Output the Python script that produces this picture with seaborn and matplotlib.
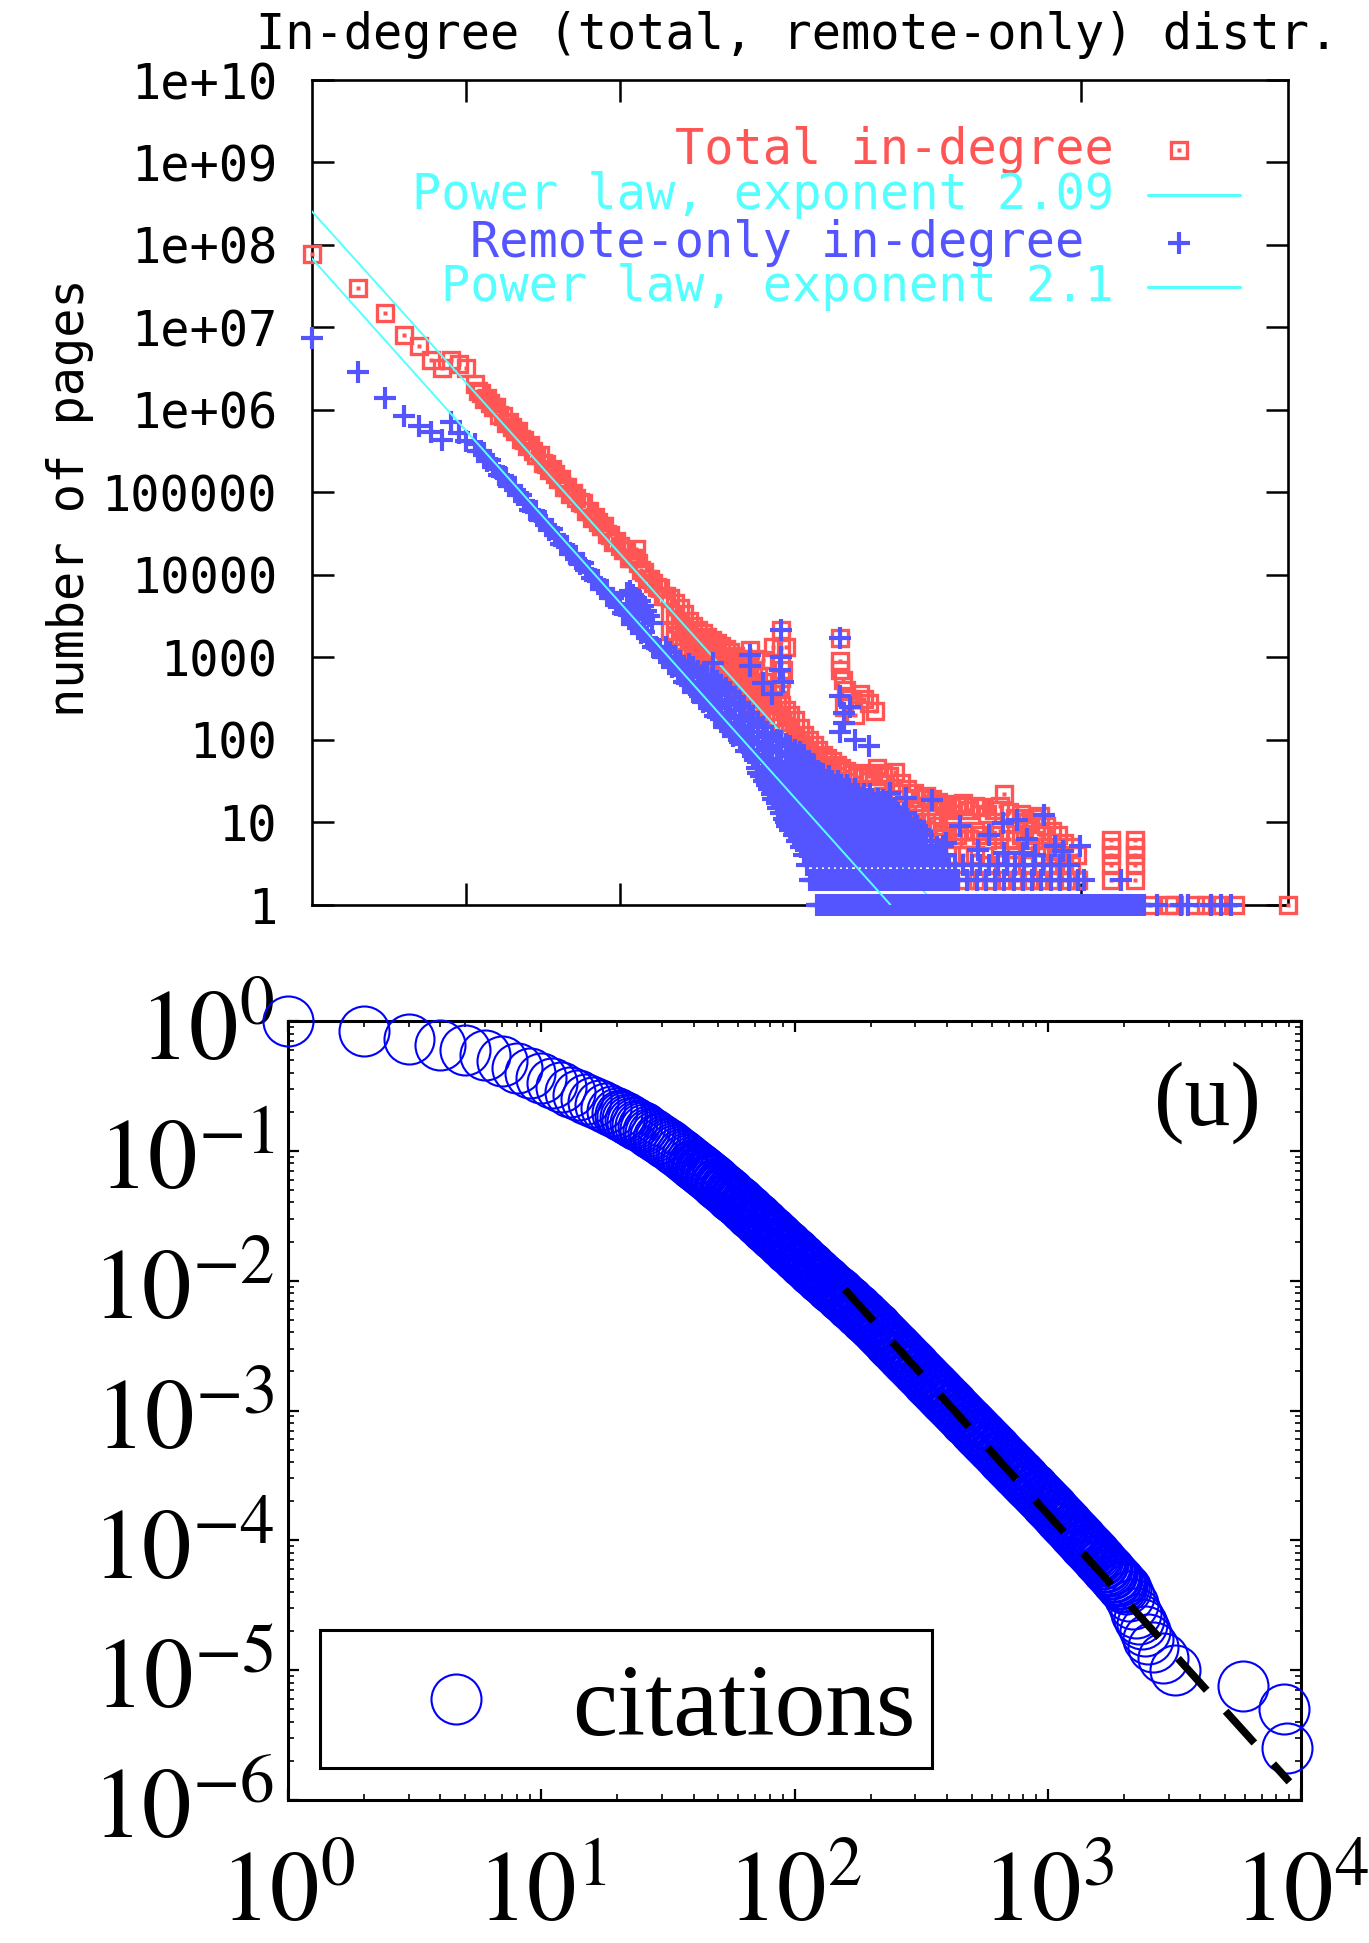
import numpy as np
import pandas as pd
import matplotlib
matplotlib.use("Agg")
import matplotlib.pyplot as plt
from matplotlib.patches import Rectangle
from matplotlib.ticker import LogLocator, NullFormatter, NullLocator
import seaborn as sns

# ====================== TOP PANEL DATA (in-degree distribution) ======================
# total in-degree: first points (degree k, number of pages)
total_head_k = [1, 2, 3, 4, 5, 6, 7, 8, 9, 10]
total_head_n = [7.7e7, 3.0e7, 1.5e7, 8.2e6, 5.9e6, 4.0e6, 3.2e6, 4.0e6, 3.6e6, 3.2e6]
# total in-degree: dense band (log10 k, log10 N)
total_band_logk = [1.06, 1.08, 1.10, 1.12, 1.14, 1.16, 1.18, 1.20, 1.22, 1.24,
                   1.26, 1.28, 1.30, 1.32, 1.34, 1.36, 1.38, 1.40, 1.42, 1.44,
                   1.46, 1.48, 1.50, 1.52, 1.54, 1.56, 1.58, 1.60, 1.62, 1.64,
                   1.66, 1.68, 1.70, 1.72, 1.74, 1.76, 1.78, 1.80, 1.82, 1.84,
                   1.86, 1.88, 1.90, 1.92, 1.94, 1.96, 1.98, 2.00, 2.02, 2.04,
                   2.06, 2.08, 2.10, 2.11,
                   2.12, 2.14, 2.16, 2.18, 2.20, 2.22, 2.24, 2.26, 2.28, 2.30]
total_band_logn = [6.32, 6.23, 6.21, 6.13, 6.14, 6.08, 6.03, 6.03, 5.94, 5.93,
                   5.84, 5.85, 5.79, 5.74, 5.74, 5.65, 5.64, 5.56, 5.57, 5.50,
                   5.45, 5.45, 5.36, 5.35, 5.27, 5.28, 5.22, 5.16, 5.16, 5.07,
                   5.06, 4.98, 4.99, 4.93, 4.88, 4.87, 4.78, 4.77, 4.69, 4.70,
                   4.64, 4.59, 4.59, 4.50, 4.48, 4.40, 4.41, 4.35, 4.30, 4.30,
                   4.21, 4.20, 4.20, 4.31,
                   4.15, 4.06, 4.04, 3.95, 3.95, 3.90, 3.85, 3.84, 3.75, 3.74]
total_upper_logk = [2.33, 2.36, 2.39, 2.42, 2.45, 2.48, 2.51, 2.54, 2.57, 2.60,
                    2.63, 2.66, 2.69, 2.72, 2.75, 2.78, 2.81, 2.84, 2.87, 2.90,
                    2.93, 2.96, 2.99, 3.02, 3.05, 3.08, 3.11, 3.14, 3.17, 3.20,
                    3.23, 3.26, 3.29, 3.32, 3.35, 3.38, 3.41, 3.44]
total_upper_logn = [3.72, 3.66, 3.60, 3.52, 3.44, 3.38, 3.33, 3.29, 3.25, 3.21,
                    3.17, 3.14, 3.10, 3.06, 3.02, 2.98, 2.94, 2.92, 2.85, 2.78,
                    2.70, 2.62, 2.55, 2.48, 2.42, 2.36, 2.30, 2.24, 2.14, 2.06,
                    2.00, 1.94, 1.88, 1.82, 1.78, 1.74, 1.70, 1.66]
total_mid_logn = [3.52, 3.46, 3.40, 3.32, 3.24, 3.18, 3.13, 3.09, 3.05, 3.01,
                  2.97, 2.94, 2.90, 2.86, 2.82, 2.78, 2.74, 2.72, 2.65, 2.58,
                  2.50, 2.42, 2.35, 2.28, 2.22, 2.16, 2.10, 2.04, 1.94, 1.86,
                  1.80, 1.74, 1.68, 1.62, 1.58, 1.54, 1.50, 1.46]
total_low_logk = [2.33, 2.36, 2.39, 2.42, 2.45, 2.48, 2.51, 2.54, 2.57, 2.60,
                  2.63, 2.66, 2.69, 2.72, 2.75, 2.78, 2.81, 2.84, 2.87, 2.90]
total_low_logn = [3.32, 3.26, 3.20, 3.12, 3.04, 2.98, 2.93, 2.89, 2.85, 2.81,
                  2.77, 2.74, 2.70, 2.66, 2.62, 2.58, 2.54, 2.52, 2.45, 2.38]
total_spikes = [(2.85, 3.09), (2.88, 2.98), (2.93, 2.97), (2.955, 2.57), (3.00, 3.13),
                (3.04, 2.65), (3.05, 3.33), (3.05, 3.11), (3.05, 2.93), (3.06, 2.85),
                (3.05, 2.75), (3.08, 3.13), (3.43, 3.23), (3.43, 2.95), (3.43, 2.85),
                (3.45, 2.72), (3.47, 2.60), (3.50, 2.50), (3.56, 2.55), (3.59, 2.50),
                (3.62, 2.445), (3.66, 2.35), (3.46, 2.40), (3.53, 2.30)]
total_tail = [(3.47, 1.62), (3.47, 1.35), (3.47, 1.05), (3.51, 1.58), (3.51, 1.30), (3.51, 0.95),
              (3.55, 1.55), (3.55, 1.25), (3.59, 1.60), (3.59, 1.30), (3.59, 1.00),
              (3.63, 1.56), (3.63, 1.20), (3.67, 1.66), (3.67, 1.40), (3.67, 1.10),
              (3.71, 1.60), (3.71, 1.32), (3.75, 1.56), (3.75, 1.25), (3.75, 0.95),
              (3.79, 1.61), (3.79, 1.35), (3.83, 1.48), (3.83, 1.20), (3.83, 0.90),
              (3.87, 1.40), (3.87, 1.10), (3.91, 1.36), (3.91, 1.15), (3.91, 0.85),
              (3.95, 1.30), (3.95, 1.05), (3.99, 1.32), (3.99, 1.00), (3.99, 0.78),
              (4.03, 1.28), (4.03, 1.00), (4.07, 1.25), (4.07, 0.95), (4.07, 0.70),
              (4.11, 1.22), (4.11, 0.90), (4.15, 1.18), (4.15, 0.95), (4.15, 0.60),
              (4.19, 1.20), (4.19, 0.85), (4.23, 1.24), (4.23, 0.90), (4.23, 0.60),
              (4.27, 1.15), (4.27, 0.80), (4.31, 1.20), (4.31, 0.90), (4.31, 0.60),
              (4.35, 1.18), (4.35, 0.85), (4.39, 1.10), (4.39, 0.78), (4.39, 0.48),
              (4.43, 1.15), (4.43, 0.85), (4.47, 1.20), (4.47, 0.90), (4.47, 0.60),
              (4.50, 1.34), (4.53, 1.12), (4.53, 0.80), (4.57, 1.05), (4.57, 0.78),
              (4.57, 0.48), (4.61, 1.10), (4.61, 0.85), (4.65, 1.00), (4.65, 0.70),
              (4.65, 0.48), (4.69, 1.05), (4.69, 0.78), (4.73, 1.08), (4.73, 0.85),
              (4.73, 0.60), (4.77, 0.95), (4.77, 0.70), (4.81, 0.90), (4.81, 0.65),
              (4.81, 0.48), (4.85, 0.85), (4.85, 0.60), (4.89, 0.75), (4.89, 0.48),
              (4.93, 0.70), (4.93, 0.48), (4.97, 0.60), (4.97, 0.30),
              (4.25, 0.301), (4.33, 0.301), (4.41, 0.301), (4.50, 0.301), (4.58, 0.301),
              (4.66, 0.301), (4.74, 0.301), (4.82, 0.301), (4.90, 0.301), (4.98, 0.301),
              (5.19, 0.30), (5.19, 0.48), (5.19, 0.60), (5.19, 0.70), (5.19, 0.78),
              (5.35, 0.30), (5.35, 0.48), (5.35, 0.60), (5.35, 0.70), (5.35, 0.78),
              (5.445, 0.0), (5.57, 0.0), (5.60, 0.0), (5.74, 0.0), (5.81, 0.0),
              (5.88, 0.0), (6.00, 0.0), (6.343, 0.0)]

# remote-only in-degree
remote_head_k = [1, 2, 3, 4, 5, 6, 7, 8, 9, 10]
remote_head_n = [7.5e6, 2.9e6, 1.4e6, 8.5e5, 6.3e5, 5.4e5, 4.3e5, 7.1e5, 5.2e5, 4.2e5]
remote_band_logk = [1.06, 1.08, 1.10, 1.12, 1.14, 1.16, 1.18, 1.20, 1.22, 1.24,
                    1.26, 1.28, 1.30, 1.32, 1.34, 1.36, 1.38, 1.40, 1.42, 1.44,
                    1.46, 1.48, 1.50, 1.52, 1.54, 1.56, 1.58, 1.60, 1.62, 1.64,
                    1.66, 1.68, 1.70, 1.72, 1.74, 1.76, 1.78, 1.80, 1.82, 1.84,
                    1.86, 1.88, 1.90, 1.92, 1.94, 1.96, 1.98, 2.00, 2.02, 2.04,
                    2.06, 2.08, 2.10, 2.12, 2.14, 2.16, 2.18, 2.20, 2.22, 2.24,
                    2.26, 2.28, 2.30, 2.32, 2.34, 2.36, 2.38, 2.40, 2.42, 2.44,
                    2.46, 2.48, 2.50, 2.52, 2.54, 2.56, 2.58, 2.60, 2.62, 2.64,
                    2.66, 2.68, 2.70, 2.72, 2.74, 2.76, 2.78, 2.80, 2.82, 2.84]
remote_band_logn = [5.59, 5.50, 5.50, 5.45, 5.38, 5.39, 5.31, 5.30, 5.21, 5.20,
                    5.17, 5.08, 5.08, 5.03, 4.97, 4.97, 4.89, 4.88, 4.79, 4.78,
                    4.76, 4.66, 4.66, 4.61, 4.55, 4.56, 4.48, 4.46, 4.37, 4.36,
                    4.34, 4.25, 4.25, 4.19, 4.13, 4.14, 4.06, 4.05, 3.96, 3.94,
                    3.92, 3.83, 3.83, 3.78, 3.72, 3.72, 3.64, 3.63, 3.54, 3.53,
                    3.51, 3.41, 3.41, 3.36, 3.30, 3.31, 3.23, 3.21, 3.12, 3.11,
                    3.09, 3.00, 3.00, 2.94, 2.88, 2.89, 2.81, 2.80, 2.70, 2.69,
                    2.67, 2.58, 2.58, 2.53, 2.46, 2.47, 2.39, 2.38, 2.29, 2.28,
                    2.25, 2.16, 2.16, 2.11, 2.05, 2.06, 1.97, 1.96, 1.87, 1.86]
remote_patch = [(2.05, 3.78), (2.07, 3.80), (2.09, 3.76), (2.11, 3.72), (2.13, 3.68),
                (2.15, 3.62), (2.17, 3.56), (2.19, 3.50), (2.21, 3.42), (2.08, 3.64),
                (2.12, 3.55), (2.16, 3.46), (2.06, 3.60)]
remote_spread = [(2.30, 3.13), (2.33, 3.07), (2.36, 3.01), (2.39, 2.96), (2.42, 2.90),
                 (2.45, 2.83), (2.45, 2.92), (2.48, 2.76), (2.48, 2.88), (2.51, 2.70),
                 (2.51, 2.84), (2.54, 2.64), (2.54, 2.79), (2.57, 2.57), (2.57, 2.72),
                 (2.57, 2.79), (2.60, 2.51), (2.60, 2.66), (2.60, 2.75), (2.63, 2.45),
                 (2.63, 2.60), (2.63, 2.71), (2.66, 2.39), (2.66, 2.54), (2.66, 2.67),
                 (2.69, 2.32), (2.69, 2.48), (2.69, 2.63), (2.72, 2.26), (2.72, 2.42),
                 (2.72, 2.58), (2.75, 2.20), (2.75, 2.36), (2.75, 2.52), (2.78, 2.13),
                 (2.78, 2.29), (2.78, 2.45), (2.81, 2.07), (2.81, 2.23), (2.81, 2.40),
                 (2.84, 2.01), (2.84, 2.17), (2.84, 2.33), (2.87, 1.80), (2.87, 1.95),
                 (2.87, 2.10), (2.87, 2.25), (2.90, 1.73), (2.90, 1.88), (2.90, 2.03),
                 (2.90, 2.20), (2.93, 1.82), (2.93, 1.97), (2.93, 2.15), (2.96, 1.77),
                 (2.96, 1.92), (2.96, 2.08), (2.99, 1.75), (2.99, 1.88), (2.99, 2.04),
                 (3.02, 1.73), (3.02, 1.85), (3.02, 2.00), (3.05, 1.72), (3.05, 1.85),
                 (3.05, 1.98), (3.08, 1.72), (3.08, 1.83), (3.08, 1.95), (3.11, 1.70),
                 (3.11, 1.80), (3.11, 1.92), (3.14, 1.70), (3.14, 1.78), (3.14, 1.88),
                 (3.17, 1.68), (3.17, 1.76), (3.17, 1.85), (3.20, 1.66), (3.20, 1.74),
                 (3.20, 1.82), (3.23, 1.65), (3.23, 1.72), (3.26, 1.64), (3.26, 1.70),
                 (3.29, 1.62)]
remote_scatter = [(2.61, 2.93), (2.85, 3.03), (2.85, 2.89), (2.93, 2.69), (3.05, 3.33),
                  (3.05, 3.01), (3.04, 2.85), (3.06, 2.70), (2.99, 2.55), (3.43, 3.23),
                  (3.43, 2.53), (3.46, 2.32), (3.46, 2.20), (3.43, 2.10), (3.53, 2.00),
                  (3.62, 1.92), (3.50, 2.40), (3.76, 1.35), (3.71, 1.27), (3.86, 1.30),
                  (4.03, 1.27), (4.21, 0.95), (4.12, 0.75), (4.10, 0.71), (4.40, 0.85),
                  (4.49, 0.99), (4.58, 1.03), (4.65, 0.80), (4.76, 1.09), (4.83, 0.71),
                  (4.88, 0.65), (4.99, 0.71), (4.33, 0.67), (4.50, 0.63), (4.62, 0.63),
                  (4.70, 0.60)]
# remote-only tail: log10 k of the pages with N = 1, 2, 3, ... in-links
row_n1_logk = [3.28, 3.31, 3.34, 3.37, 3.40, 3.43, 3.46, 3.49, 3.52, 3.55, 3.58, 3.61,
               3.64, 3.67, 3.70, 3.73, 3.76, 3.79, 3.82, 3.85, 3.88, 3.91, 3.94, 3.97,
               4.00, 4.03, 4.06, 4.09, 4.12, 4.15, 4.18, 4.21, 4.24, 4.27, 4.30, 4.33,
               4.36, 4.39, 4.42, 4.45, 4.48, 4.51, 4.54, 4.57, 4.60, 4.63, 4.66, 4.69,
               4.72, 4.75, 4.78, 4.81, 4.84, 4.87, 4.90, 4.93, 4.96, 4.99, 5.02, 5.05,
               5.08, 5.11, 5.14, 5.17, 5.20, 5.23, 5.26, 5.29, 5.32, 5.35, 5.38, 5.41,
               5.49, 5.65, 5.69, 5.84, 5.91, 5.97]
row_n1b_logk = [3.295, 3.325, 3.355, 3.385, 3.415, 3.445, 3.475, 3.505, 3.535, 3.565,
                3.595, 3.625, 3.655, 3.685, 3.715, 3.745, 3.775, 3.805, 3.835, 3.865,
                3.895, 3.925, 3.955, 3.985, 4.015, 4.045, 4.075, 4.105, 4.135, 4.165,
                4.195, 4.225, 4.255, 4.285, 4.315, 4.345, 4.375, 4.405, 4.435, 4.465,
                4.495, 4.525, 4.555, 4.585, 4.615, 4.645, 4.675, 4.705, 4.735, 4.765,
                4.795, 4.825, 4.855, 4.885, 4.915, 4.945, 4.975, 5.005, 5.035, 5.065,
                5.095, 5.125, 5.155, 5.185, 5.215, 5.245, 5.275, 5.305, 5.335, 5.365,
                5.395]
row_n2_logk = [3.24, 3.27, 3.30, 3.33, 3.36, 3.39, 3.42, 3.45, 3.48, 3.51, 3.54, 3.57,
               3.60, 3.63, 3.66, 3.69, 3.72, 3.75, 3.78, 3.81, 3.84, 3.87, 3.90, 3.93,
               3.96, 3.99, 4.02, 4.05, 4.08, 4.11, 4.14, 4.17, 4.20, 4.26, 4.32, 4.38,
               4.44, 4.50, 4.56, 4.62, 4.68, 4.74, 4.80, 4.86, 4.92, 4.98, 5.02, 5.26]
row_n2b_logk = [3.255, 3.285, 3.315, 3.345, 3.375, 3.405, 3.435, 3.465, 3.495, 3.525,
                3.555, 3.585, 3.615, 3.645, 3.675, 3.705, 3.735, 3.765, 3.795, 3.825,
                3.855, 3.885, 3.915, 3.945, 3.975, 4.005, 4.035, 4.065, 4.095, 4.125,
                4.155, 4.185]
row_n3_logk = [3.22, 3.26, 3.30, 3.34, 3.38, 3.42, 3.46, 3.50, 3.54, 3.58, 3.62, 3.66,
               3.70, 3.74, 3.78, 3.82, 3.86, 3.90, 3.94, 3.98, 4.02, 4.06, 4.10, 4.14,
               4.18, 4.23, 4.29, 4.34, 4.40, 4.46, 4.52, 4.57, 4.63, 4.69, 4.75, 4.80,
               4.86, 4.92]
row_n4_logk = [3.20, 3.24, 3.28, 3.32, 3.36, 3.40, 3.44, 3.48, 3.52, 3.56, 3.60, 3.64,
               3.68, 3.72, 3.76, 3.80, 3.84, 3.88, 3.92, 3.96, 4.00, 4.04, 4.08, 4.12]
row_n5_logk = [3.18, 3.22, 3.26, 3.30, 3.34, 3.38, 3.42, 3.46, 3.50, 3.54, 3.58, 3.62,
               3.66, 3.70, 3.74, 3.78, 3.82, 3.86, 3.90, 3.94, 3.98, 4.02, 4.06]
row_n6_logk = [3.15, 3.19, 3.23, 3.27, 3.31, 3.35, 3.39, 3.43, 3.47, 3.51, 3.55, 3.59,
               3.63, 3.67, 3.71, 3.75, 3.79, 3.83, 3.87, 3.91, 3.95, 3.99, 4.02]
row_n7_logk = [3.13, 3.17, 3.21, 3.25, 3.29, 3.33, 3.37, 3.41, 3.45, 3.49, 3.53, 3.57,
               3.61, 3.65, 3.69, 3.73, 3.77, 3.81, 3.85, 3.89, 3.93, 3.97]
row_n8_logk = [3.11, 3.15, 3.19, 3.23, 3.27, 3.31, 3.35, 3.39, 3.43, 3.47, 3.51, 3.55,
               3.59, 3.63, 3.67, 3.71, 3.75, 3.79, 3.83, 3.87, 3.91, 3.95]
row_n9_logk = [3.09, 3.13, 3.17, 3.21, 3.25, 3.29, 3.33, 3.37, 3.41, 3.45, 3.49, 3.53,
               3.57, 3.61, 3.65, 3.69, 3.73, 3.77, 3.81, 3.85, 3.89, 3.93]
row_n10_logk = [3.08, 3.12, 3.16, 3.20, 3.24, 3.28, 3.32, 3.36, 3.40, 3.44, 3.48, 3.52,
                3.56, 3.60, 3.64, 3.68, 3.72, 3.76, 3.80, 3.84, 3.88, 3.92]
row_n11_logk = [3.07, 3.11, 3.15, 3.19, 3.23, 3.27, 3.31, 3.35, 3.39, 3.43, 3.47, 3.51,
                3.55, 3.59, 3.63, 3.67, 3.71, 3.75, 3.79, 3.83, 3.87]
row_n13_logk = [3.05, 3.09, 3.13, 3.17, 3.21, 3.25, 3.29, 3.33, 3.37, 3.41, 3.45, 3.49,
                3.53, 3.57, 3.61, 3.65, 3.69, 3.73, 3.77, 3.81, 3.85]
row_n15_logk = [3.03, 3.07, 3.11, 3.15, 3.19, 3.23, 3.27, 3.31, 3.35, 3.39, 3.43, 3.47,
                3.51, 3.55, 3.59, 3.63, 3.67, 3.71, 3.75, 3.79]
row_n17_logk = [3.02, 3.06, 3.10, 3.14, 3.18, 3.22, 3.26, 3.30, 3.34, 3.38, 3.42, 3.46,
                3.50, 3.54, 3.58, 3.62, 3.66, 3.70, 3.74]
row_n19_logk = [3.00, 3.04, 3.08, 3.12, 3.16, 3.20, 3.24, 3.28, 3.32, 3.36, 3.40, 3.44,
                3.48, 3.52, 3.56, 3.60, 3.64, 3.68]
row_n22_logk = [2.99, 3.03, 3.07, 3.11, 3.15, 3.19, 3.23, 3.27, 3.31, 3.35, 3.39, 3.43,
                3.47, 3.51, 3.55, 3.59, 3.63]
row_n25_logk = [2.97, 3.01, 3.05, 3.09, 3.13, 3.17, 3.21, 3.25, 3.29, 3.33, 3.37, 3.41,
                3.45, 3.49, 3.53]
row_n28_logk = [2.96, 3.00, 3.04, 3.08, 3.12, 3.16, 3.20, 3.24, 3.28, 3.32, 3.36, 3.40,
                3.44, 3.48]
row_n32_logk = [2.94, 2.98, 3.02, 3.06, 3.10, 3.14, 3.18, 3.22, 3.26, 3.30, 3.34, 3.38,
                3.42]
row_n36_logk = [2.92, 2.96, 3.00, 3.04, 3.08, 3.12, 3.16, 3.20, 3.24, 3.28, 3.32, 3.36]
row_n40_logk = [2.90, 2.94, 2.98, 3.02, 3.06, 3.10, 3.14, 3.18, 3.22, 3.26, 3.30]
row_n46_logk = [2.89, 2.93, 2.97, 3.01, 3.05, 3.09, 3.13, 3.17, 3.21, 3.25]
remote_row_n = [1, 1, 2, 2, 3, 4, 5, 6, 7, 8, 9, 10, 11, 13, 15, 17, 19, 22, 25, 28,
                32, 36, 40, 46]
remote_rows_logk = [row_n1_logk, row_n1b_logk, row_n2_logk, row_n2b_logk, row_n3_logk,
                    row_n4_logk, row_n5_logk, row_n6_logk, row_n7_logk, row_n8_logk,
                    row_n9_logk, row_n10_logk, row_n11_logk, row_n13_logk, row_n15_logk,
                    row_n17_logk, row_n19_logk, row_n22_logk, row_n25_logk, row_n28_logk,
                    row_n32_logk, row_n36_logk, row_n40_logk, row_n46_logk]

# fitted power laws (end points)
fit_total_k = [1.0, 1.0e4]
fit_total_n = [2.57e8, 1.3]
fit_remote_k = [1.0, 5.75e3]
fit_remote_n = [6.9e7, 1.0]

top_title = "In-degree (total, remote-only) distr."
top_ylabel = "number of pages"
top_yticks = [1, 10, 100, 1e3, 1e4, 1e5, 1e6, 1e7, 1e8, 1e9, 1e10]
top_yticklabels = ["1", "10", "100", "1000", "10000", "100000",
                   "1e+06", "1e+07", "1e+08", "1e+09", "1e+10"]
top_xticks = [10, 100, 1e5]
legend_labels = ["Total in-degree", "Power law, exponent 2.09",
                 "Remote-only in-degree ", "Power law, exponent 2.1"]

# ====================== BOTTOM PANEL DATA (citations CCDF) ======================
cit_head_x = [1, 2, 3, 4, 5, 6, 7, 8, 9, 10, 11, 12, 13, 14, 15, 16, 17, 18, 19, 20]
cit_head_y = [1.0, 0.841, 0.724, 0.653, 0.596, 0.547, 0.490, 0.437, 0.398, 0.363,
              0.333, 0.308, 0.286, 0.268, 0.252, 0.238, 0.225, 0.214, 0.204, 0.194]
cit_band_logx = [1.31, 1.32, 1.33, 1.34, 1.35, 1.36, 1.37, 1.38, 1.39, 1.40,
                 1.41, 1.42, 1.43, 1.44, 1.45, 1.46, 1.47, 1.48, 1.49, 1.50,
                 1.51, 1.52, 1.53, 1.54, 1.55, 1.56, 1.57, 1.58, 1.59, 1.60,
                 1.61, 1.62, 1.63, 1.64, 1.65, 1.66, 1.67, 1.68, 1.69, 1.70,
                 1.71, 1.72, 1.73, 1.74, 1.75, 1.76, 1.77, 1.78, 1.79, 1.80,
                 1.81, 1.82, 1.83, 1.84, 1.85, 1.86, 1.87, 1.88, 1.89, 1.90,
                 1.91, 1.92, 1.93, 1.94, 1.95, 1.96, 1.97, 1.98, 1.99, 2.00,
                 2.01, 2.02, 2.03, 2.04, 2.05, 2.06, 2.07, 2.08, 2.09, 2.10,
                 2.11, 2.12, 2.13, 2.14, 2.15, 2.16, 2.17, 2.18, 2.19, 2.20,
                 2.21, 2.22, 2.23, 2.24, 2.25, 2.26, 2.27, 2.28, 2.29, 2.30,
                 2.31, 2.32, 2.33, 2.34, 2.35, 2.36, 2.37, 2.38, 2.39, 2.40,
                 2.41, 2.42, 2.43, 2.44, 2.45, 2.46, 2.47, 2.48, 2.49, 2.50,
                 2.51, 2.52, 2.53, 2.54, 2.55, 2.56, 2.57, 2.58, 2.59, 2.60,
                 2.61, 2.62, 2.63, 2.64, 2.65, 2.66, 2.67, 2.68, 2.69, 2.70,
                 2.71, 2.72, 2.73, 2.74, 2.75, 2.76, 2.77, 2.78, 2.79, 2.80,
                 2.81, 2.82, 2.83, 2.84, 2.85, 2.86, 2.87, 2.88, 2.89, 2.90,
                 2.91, 2.92, 2.93, 2.94, 2.95, 2.96, 2.97, 2.98, 2.99, 3.00,
                 3.01, 3.02, 3.03, 3.04, 3.05, 3.06, 3.07, 3.08, 3.09, 3.10,
                 3.11, 3.12, 3.13, 3.14, 3.15, 3.16, 3.17, 3.18, 3.19, 3.20,
                 3.21, 3.22, 3.23, 3.24, 3.25, 3.26, 3.27, 3.28, 3.29, 3.30]
cit_band_logy = [-0.721, -0.732, -0.743, -0.754, -0.765, -0.776, -0.787, -0.798, -0.809, -0.820,
                 -0.833, -0.846, -0.859, -0.872, -0.885, -0.898, -0.911, -0.924, -0.937, -0.950,
                 -0.965, -0.980, -0.995, -1.010, -1.025, -1.040, -1.055, -1.070, -1.085, -1.100,
                 -1.116, -1.132, -1.148, -1.164, -1.180, -1.196, -1.212, -1.228, -1.244, -1.260,
                 -1.277, -1.294, -1.311, -1.328, -1.345, -1.362, -1.379, -1.396, -1.413, -1.430,
                 -1.448, -1.466, -1.484, -1.502, -1.520, -1.538, -1.556, -1.574, -1.592, -1.610,
                 -1.628, -1.646, -1.664, -1.682, -1.700, -1.718, -1.736, -1.754, -1.772, -1.790,
                 -1.808, -1.826, -1.844, -1.862, -1.880, -1.898, -1.916, -1.934, -1.952, -1.970,
                 -1.987, -2.004, -2.021, -2.038, -2.055, -2.072, -2.089, -2.106, -2.123, -2.140,
                 -2.158, -2.176, -2.194, -2.212, -2.230, -2.248, -2.266, -2.284, -2.302, -2.320,
                 -2.340, -2.360, -2.380, -2.400, -2.420, -2.440, -2.460, -2.480, -2.500, -2.520,
                 -2.540, -2.560, -2.580, -2.600, -2.620, -2.640, -2.660, -2.680, -2.700, -2.720,
                 -2.740, -2.760, -2.780, -2.800, -2.820, -2.840, -2.860, -2.880, -2.900, -2.920,
                 -2.940, -2.960, -2.980, -3.000, -3.020, -3.040, -3.060, -3.080, -3.100, -3.120,
                 -3.140, -3.160, -3.180, -3.200, -3.220, -3.240, -3.260, -3.280, -3.300, -3.320,
                 -3.340, -3.360, -3.380, -3.400, -3.420, -3.440, -3.460, -3.480, -3.500, -3.520,
                 -3.540, -3.560, -3.580, -3.600, -3.620, -3.640, -3.660, -3.680, -3.700, -3.720,
                 -3.741, -3.762, -3.783, -3.804, -3.825, -3.846, -3.867, -3.888, -3.909, -3.930,
                 -3.951, -3.972, -3.993, -4.014, -4.035, -4.056, -4.077, -4.098, -4.119, -4.140,
                 -4.162, -4.184, -4.206, -4.228, -4.250, -4.272, -4.294, -4.316, -4.338, -4.360]
# the densest part of the band holds more papers per pixel: extra readings between the above
cit_fine_logx = [1.605, 1.615, 1.625, 1.635, 1.645, 1.655, 1.665, 1.675, 1.685, 1.695,
                 1.705, 1.715, 1.725, 1.735, 1.745, 1.755, 1.765, 1.775, 1.785, 1.795,
                 1.805, 1.815, 1.825, 1.835, 1.845, 1.855, 1.865, 1.875, 1.885, 1.895,
                 1.905, 1.915, 1.925, 1.935, 1.945, 1.955, 1.965, 1.975, 1.985, 1.995,
                 2.005, 2.015, 2.025, 2.035, 2.045, 2.055, 2.065, 2.075, 2.085, 2.095,
                 2.105, 2.115, 2.125, 2.135, 2.145, 2.155, 2.165, 2.175, 2.185, 2.195,
                 2.205, 2.215, 2.225, 2.235, 2.245, 2.255, 2.265, 2.275, 2.285, 2.295,
                 2.305, 2.315, 2.325, 2.335, 2.345, 2.355, 2.365, 2.375, 2.385, 2.395,
                 2.405, 2.415, 2.425, 2.435, 2.445, 2.455, 2.465, 2.475, 2.485, 2.495,
                 2.505, 2.515, 2.525, 2.535, 2.545, 2.555, 2.565, 2.575, 2.585, 2.595,
                 2.605, 2.615, 2.625, 2.635, 2.645, 2.655, 2.665, 2.675, 2.685, 2.695,
                 2.705, 2.715, 2.725, 2.735, 2.745, 2.755, 2.765, 2.775, 2.785, 2.795,
                 2.805, 2.815, 2.825, 2.835, 2.845, 2.855, 2.865, 2.875, 2.885, 2.895,
                 2.905, 2.915, 2.925, 2.935, 2.945, 2.955, 2.965, 2.975, 2.985, 2.995,
                 3.005, 3.015, 3.025, 3.035, 3.045, 3.055, 3.065, 3.075, 3.085, 3.095,
                 3.105, 3.115, 3.125, 3.135, 3.145, 3.155, 3.165, 3.175, 3.185, 3.195,
                 3.205, 3.215, 3.225, 3.235, 3.245, 3.255, 3.265, 3.275, 3.285, 3.295]
cit_fine_logy = [-1.108, -1.124, -1.140, -1.156, -1.172, -1.188, -1.204, -1.220, -1.236, -1.252,
                 -1.269, -1.286, -1.303, -1.320, -1.337, -1.354, -1.371, -1.388, -1.405, -1.422,
                 -1.439, -1.457, -1.475, -1.493, -1.511, -1.529, -1.547, -1.565, -1.583, -1.601,
                 -1.619, -1.637, -1.655, -1.673, -1.691, -1.709, -1.727, -1.745, -1.763, -1.781,
                 -1.799, -1.817, -1.835, -1.853, -1.871, -1.889, -1.907, -1.925, -1.943, -1.961,
                 -1.979, -1.996, -2.013, -2.030, -2.047, -2.064, -2.081, -2.098, -2.115, -2.132,
                 -2.149, -2.167, -2.185, -2.203, -2.221, -2.239, -2.257, -2.275, -2.293, -2.311,
                 -2.330, -2.350, -2.370, -2.390, -2.410, -2.430, -2.450, -2.470, -2.490, -2.510,
                 -2.530, -2.550, -2.570, -2.590, -2.610, -2.630, -2.650, -2.670, -2.690, -2.710,
                 -2.730, -2.750, -2.770, -2.790, -2.810, -2.830, -2.850, -2.870, -2.890, -2.910,
                 -2.930, -2.950, -2.970, -2.990, -3.010, -3.030, -3.050, -3.070, -3.090, -3.110,
                 -3.130, -3.150, -3.170, -3.190, -3.210, -3.230, -3.250, -3.270, -3.290, -3.310,
                 -3.330, -3.350, -3.370, -3.390, -3.410, -3.430, -3.450, -3.470, -3.490, -3.510,
                 -3.530, -3.550, -3.570, -3.590, -3.610, -3.630, -3.650, -3.670, -3.690, -3.710,
                 -3.731, -3.752, -3.773, -3.794, -3.815, -3.836, -3.857, -3.878, -3.899, -3.920,
                 -3.941, -3.962, -3.983, -4.004, -4.025, -4.046, -4.067, -4.088, -4.109, -4.130,
                 -4.151, -4.173, -4.195, -4.217, -4.239, -4.261, -4.283, -4.305, -4.327, -4.349]
cit_tail_x = [2040, 2100, 2170, 2240, 2300, 2360, 2420, 2480, 2600, 2850, 3170, 5900, 8600, 8800]
cit_tail_y = [4.25e-5, 3.75e-5, 3.25e-5, 2.75e-5, 2.5e-5, 2.25e-5, 2.0e-5, 1.75e-5,
              1.5e-5, 1.25e-5, 1.0e-5, 7.5e-6, 5.0e-6, 2.5e-6]
cit_fit_x = [158, 9000]
cit_fit_y = [8.57e-3, 1.38e-6]
cit_xticks = [1, 10, 100, 1000, 10000]
cit_xticklabels = [r"$10^{0}$", r"$10^{1}$", r"$10^{2}$", r"$10^{3}$", r"$10^{4}$"]
cit_yticks = [1e-6, 1e-5, 1e-4, 1e-3, 1e-2, 1e-1, 1]
cit_yticklabels = [r"$10^{-6}$", r"$10^{-5}$", r"$10^{-4}$", r"$10^{-3}$",
                   r"$10^{-2}$", r"$10^{-1}$", r"$10^{0}$"]
cit_legend_label = "citations"
panel_tag = "(u)"

# ====================== STYLE ======================
RED = "#ff5555"
BLUE = "#5555ff"
CYAN = "#55ffff"
CIRC = "#0000ff"
MONO = ["DejaVu Sans Mono", "DejaVu Sans"]
TOPFS = 35

sns.set_theme(style="ticks")
plt.rcParams["font.family"] = MONO
plt.rcParams["mathtext.fontset"] = "stix"
plt.rcParams["axes.edgecolor"] = "black"
plt.rcParams["text.color"] = "black"
plt.rcParams["xtick.color"] = "black"
plt.rcParams["ytick.color"] = "black"
plt.rcParams["axes.facecolor"] = "white"
plt.rcParams["figure.facecolor"] = "white"

W, H = 1369, 1943
fig = plt.figure(figsize=(W / 100, H / 100), dpi=100)


def from_log(lk, ln):
    n = min(len(lk), len(ln))
    return 10.0 ** np.asarray(lk[:n], float), 10.0 ** np.asarray(ln[:n], float)


def from_pairs(pairs):
    return from_log([p[0] for p in pairs], [p[1] for p in pairs])


# ---------------------------- top panel ----------------------------
ax1 = fig.add_axes([311.7 / W, 1 - 904.8 / H, (1288 - 311.7) / W, (904.8 - 80) / H])
ax1.set_xscale("log")
ax1.set_yscale("log")

parts_k, parts_n = [np.asarray(total_head_k, float)], [np.asarray(total_head_n, float)]
for k, n in [from_log(total_band_logk, total_band_logn),
             from_log(total_upper_logk, total_upper_logn),
             from_log(total_upper_logk, total_mid_logn),
             from_log(total_low_logk, total_low_logn),
             from_pairs(total_spikes), from_pairs(total_tail)]:
    parts_k.append(k)
    parts_n.append(n)
total_df = pd.DataFrame({"k": np.concatenate(parts_k), "n": np.concatenate(parts_n)})

parts_k, parts_n = [np.asarray(remote_head_k, float)], [np.asarray(remote_head_n, float)]
for k, n in [from_log(remote_band_logk, remote_band_logn), from_pairs(remote_patch),
             from_pairs(remote_spread), from_pairs(remote_scatter)]:
    parts_k.append(k)
    parts_n.append(n)
for nval, row in zip(remote_row_n, remote_rows_logk):
    parts_k.append(10.0 ** np.asarray(row, float))
    parts_n.append(np.full(len(row), float(nval)))
remote_df = pd.DataFrame({"k": np.concatenate(parts_k), "n": np.concatenate(parts_n)})

SQ_MS, SQ_MEW = 12.0, 2.4
PL_MS, PL_MEW = 15.6, 3.0

# total in-degree: hollow squares with a centre dot
ax1.plot(total_df["k"], total_df["n"], ls="none", marker="s", ms=SQ_MS, mfc="none",
         mec=RED, mew=SQ_MEW, clip_on=False, zorder=3)
ax1.plot(total_df["k"], total_df["n"], ls="none", marker="s", ms=2.2, mfc=RED,
         mec="none", clip_on=False, zorder=3.05)
# fitted power law (total)
sns.lineplot(x=fit_total_k, y=fit_total_n, ax=ax1, color=CYAN, lw=1.4,
             estimator=None, sort=False, zorder=3.1)
# remote-only in-degree: plus markers
ax1.plot(remote_df["k"], remote_df["n"], ls="none", marker="+", ms=PL_MS, mew=PL_MEW,
         color=BLUE, clip_on=False, zorder=3.2)
# fitted power law (remote)
sns.lineplot(x=fit_remote_k, y=fit_remote_n, ax=ax1, color=CYAN, lw=1.4,
             estimator=None, sort=False, zorder=4)

ax1.set_xlim(1, 2.2e6)
ax1.set_ylim(1, 1e10)
ax1.set_xticks(top_xticks)
ax1.xaxis.set_minor_locator(NullLocator())
ax1.yaxis.set_minor_locator(NullLocator())
ax1.set_xticklabels([])
ax1.set_yticks(top_yticks)
ax1.set_yticklabels(top_yticklabels)
ax1.tick_params(axis="both", which="major", direction="in", length=16, width=1.8,
                top=True, right=True, labelbottom=False, labelsize=TOPFS, pad=25)
ax1.set_xlabel("")
ax1.set_ylabel("")
for s in ax1.spines.values():
    s.set_linewidth(1.9)
    s.set_color("black")
    s.set_zorder(2.5)

# legend (gnuplot style, right-justified text with sample to the right)
leg_y = [0.9151, 0.8606, 0.8024, 0.749]
leg_colors = [RED, CYAN, BLUE, CYAN]
for lab, yy, col in zip(legend_labels, leg_y, leg_colors):
    ax1.text(0.8213, yy, lab, transform=ax1.transAxes, ha="right", va="center",
             fontsize=TOPFS, color=col, family=MONO)
ax1.plot([0.8884], [leg_y[0]], transform=ax1.transAxes, ls="none", marker="s", ms=SQ_MS,
         mfc="none", mec=RED, mew=SQ_MEW, clip_on=False, zorder=5)
ax1.plot([0.8884], [leg_y[0]], transform=ax1.transAxes, ls="none", marker="s", ms=2.2,
         mfc=RED, mec="none", clip_on=False, zorder=5)
ax1.plot([0.857, 0.951], [leg_y[1], leg_y[1]], transform=ax1.transAxes, color=CYAN,
         lw=2.2, clip_on=False, zorder=5)
ax1.plot([0.8884], [leg_y[2]], transform=ax1.transAxes, ls="none", marker="+", ms=PL_MS,
         mew=PL_MEW, color=BLUE, clip_on=False, zorder=5)
ax1.plot([0.857, 0.951], [leg_y[3], leg_y[3]], transform=ax1.transAxes, color=CYAN,
         lw=2.2, clip_on=False, zorder=5)

fig.text(797 / W, 1 - 35 / H, top_title, ha="center", va="center", fontsize=TOPFS,
         family=MONO)
fig.text(70 / W, 1 - 498 / H, top_ylabel, ha="center", va="center", rotation=90,
         fontsize=TOPFS, family=MONO)

# ---------------------------- bottom panel ----------------------------
ax2 = fig.add_axes([288 / W, 1 - 1800 / H, 1013 / W, 779 / H])
ax2.set_xscale("log")
ax2.set_yscale("log")

bx, by = from_log(cit_band_logx, cit_band_logy)
fx, fy = from_log(cit_fine_logx, cit_fine_logy)
cit_df = pd.DataFrame({
    "x": np.concatenate([np.asarray(cit_head_x, float), bx, fx, np.asarray(cit_tail_x, float)]),
    "y": np.concatenate([np.asarray(cit_head_y, float), by, fy, np.asarray(cit_tail_y, float)]),
})
ax2.plot(cit_df["x"], cit_df["y"], ls="none", marker="o", ms=36, mfc="none", mec=CIRC,
         mew=1.5, clip_on=False, zorder=3)
sns.lineplot(x=cit_fit_x, y=cit_fit_y, ax=ax2, color="black", lw=5.5,
             estimator=None, sort=False, zorder=4)
ax2.lines[-1].set_dashes([5.6, 3.7])

ax2.set_xlim(1, 1e4)
ax2.set_ylim(1e-6, 1)
ax2.set_xticks(cit_xticks)
ax2.set_xticklabels(cit_xticklabels)
ax2.set_yticks(cit_yticks)
ax2.set_yticklabels(cit_yticklabels)
ax2.xaxis.set_minor_locator(LogLocator(base=10, subs=np.arange(2, 10), numticks=20))
ax2.yaxis.set_minor_locator(LogLocator(base=10, subs=np.arange(2, 10), numticks=20))
ax2.xaxis.set_minor_formatter(NullFormatter())
ax2.yaxis.set_minor_formatter(NullFormatter())
ax2.tick_params(axis="both", which="major", direction="in", length=8, width=1.6,
                top=True, right=True, labelsize=71)
ax2.tick_params(axis="both", which="minor", direction="in", length=4, width=1.2,
                top=True, right=True)
ax2.tick_params(axis="x", which="major", pad=32)
ax2.tick_params(axis="y", which="major", pad=10)
ax2.set_xlabel("")
ax2.set_ylabel("")
for s in ax2.spines.values():
    s.set_linewidth(2.2)
    s.set_color("black")

# legend box
ax2.add_patch(Rectangle((0.0316, 0.0411), 0.6041, 0.1771, transform=ax2.transAxes,
                        fill=True, facecolor="white", edgecolor="black", lw=2.2,
                        zorder=5, clip_on=False))
ax2.plot([0.1658], [0.1296], transform=ax2.transAxes, ls="none", marker="o", ms=36,
         mfc="none", mec=CIRC, mew=1.5, zorder=6, clip_on=False)
ax2.text(0.2804, 0.0834, cit_legend_label, transform=ax2.transAxes, ha="left",
         va="baseline", fontsize=73, family="Liberation Serif", zorder=6)
ax2.text(0.908, 0.8947, panel_tag, transform=ax2.transAxes, ha="center", va="center",
         fontsize=66, family="Liberation Serif", zorder=6)

fig.savefig("out.png", dpi=100, facecolor="white")
